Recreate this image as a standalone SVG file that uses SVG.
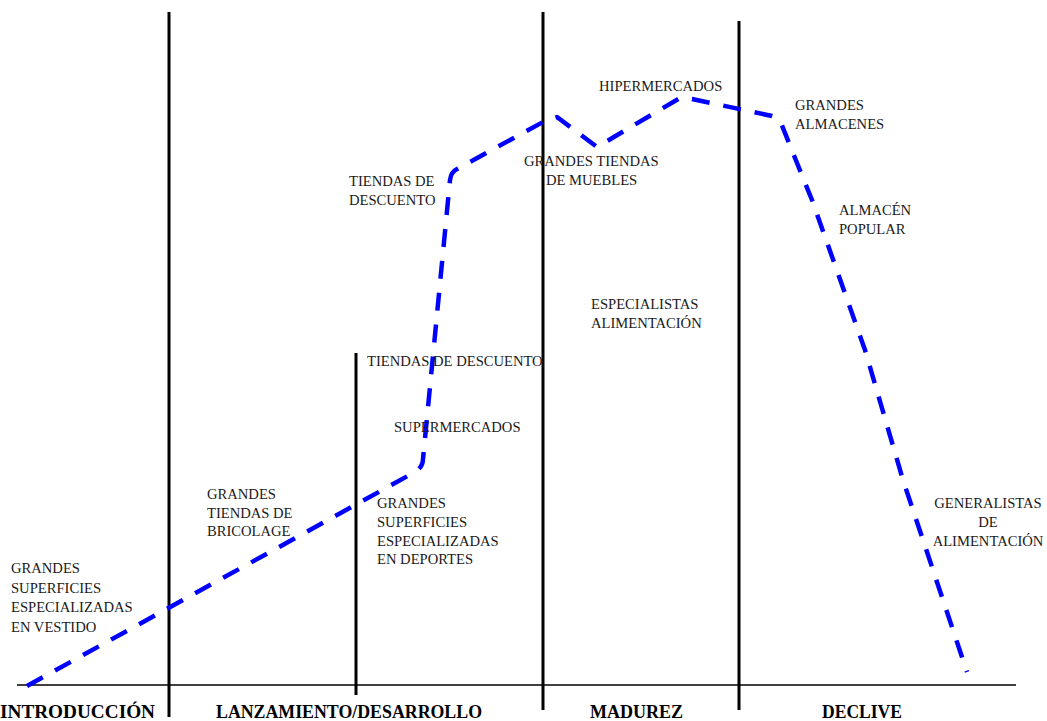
<svg xmlns="http://www.w3.org/2000/svg" width="1047" height="721" viewBox="0 0 1047 721">
<style>
.lbl{font-family:"Liberation Serif","Times New Roman",serif;font-size:14.6px;fill:#1a1a1a}
.phase{font-family:"Liberation Serif","Times New Roman",serif;font-size:18px;font-weight:bold;fill:#000}
.vline{stroke:#000;stroke-width:3;fill:none}
.axis{stroke:#000;stroke-width:1.5;fill:none}
.curve{stroke:#0000ff;stroke-width:4.5;fill:none;stroke-dasharray:18 14;stroke-linejoin:round}
</style>
<rect width="1047" height="721" fill="#fff"/>
<g id="axes">
<line class="axis" x1="17" y1="685" x2="1016" y2="685"/>
<line class="vline" x1="169" y1="12" x2="169" y2="717"/>
<line class="vline" x1="356" y1="353" x2="356" y2="695"/>
<line class="vline" x1="543" y1="12" x2="543" y2="710"/>
<line class="vline" x1="739" y1="21" x2="739" y2="710"/>
</g>
<g id="connectors">
<path class="curve" d="M27,686 L415,472 Q423,467 423,459 L450,180 Q451,172 457,169 L543,122 L557,117 L597,147 L680,98 L692,99 L772,116 Q778,118 781,123 L795,158 L812,200 L865,350 L903,480 L967,672"/>
</g>
<g id="phase-labels">
<text class="phase" x="0" y="718" textLength="155" lengthAdjust="spacingAndGlyphs">INTRODUCCIÓN</text>
<text class="phase" x="216" y="718" textLength="266" lengthAdjust="spacingAndGlyphs">LANZAMIENTO/DESARROLLO</text>
<text class="phase" x="590" y="718" textLength="93" lengthAdjust="spacingAndGlyphs">MADUREZ</text>
<text class="phase" x="822" y="718" textLength="80" lengthAdjust="spacingAndGlyphs">DECLIVE</text>
</g>
<g id="vestido">
<text class="lbl" x="11" y="573">GRANDES</text>
<text class="lbl" x="11" y="592.5">SUPERFICIES</text>
<text class="lbl" x="11" y="612">ESPECIALIZADAS</text>
<text class="lbl" x="11" y="631.5">EN VESTIDO</text>
</g>
<g id="bricolage">
<text class="lbl" x="207" y="499">GRANDES</text>
<text class="lbl" x="207" y="517.5">TIENDAS DE</text>
<text class="lbl" x="207" y="536">BRICOLAGE</text>
</g>
<g id="deportes">
<text class="lbl" x="377" y="508">GRANDES</text>
<text class="lbl" x="377" y="527">SUPERFICIES</text>
<text class="lbl" x="377" y="545.5">ESPECIALIZADAS</text>
<text class="lbl" x="377" y="564">EN DEPORTES</text>
</g>
<g id="supermercados">
<text class="lbl" x="394" y="432">SUPERMERCADOS</text>
</g>
<g id="descuento1">
<text class="lbl" x="367" y="366">TIENDAS DE DESCUENTO</text>
</g>
<g id="descuento2">
<text class="lbl" x="349" y="186">TIENDAS DE</text>
<text class="lbl" x="349" y="205">DESCUENTO</text>
</g>
<g id="muebles">
<text class="lbl" x="524" y="166">GRANDES TIENDAS</text>
<text class="lbl" x="546" y="185">DE MUEBLES</text>
</g>
<g id="hipermercados">
<text class="lbl" x="599" y="91">HIPERMERCADOS</text>
</g>
<g id="especialistas">
<text class="lbl" x="591" y="309">ESPECIALISTAS</text>
<text class="lbl" x="591" y="328">ALIMENTACIÓN</text>
</g>
<g id="almacenes">
<text class="lbl" x="795" y="110">GRANDES</text>
<text class="lbl" x="795" y="128.5">ALMACENES</text>
</g>
<g id="popular">
<text class="lbl" x="839" y="215">ALMACÉN</text>
<text class="lbl" x="839" y="233.5">POPULAR</text>
</g>
<g id="generalistas" text-anchor="middle">
<text class="lbl" x="988" y="508">GENERALISTAS</text>
<text class="lbl" x="988" y="527">DE</text>
<text class="lbl" x="988" y="545.5">ALIMENTACIÓN</text>
</g>
</svg>
